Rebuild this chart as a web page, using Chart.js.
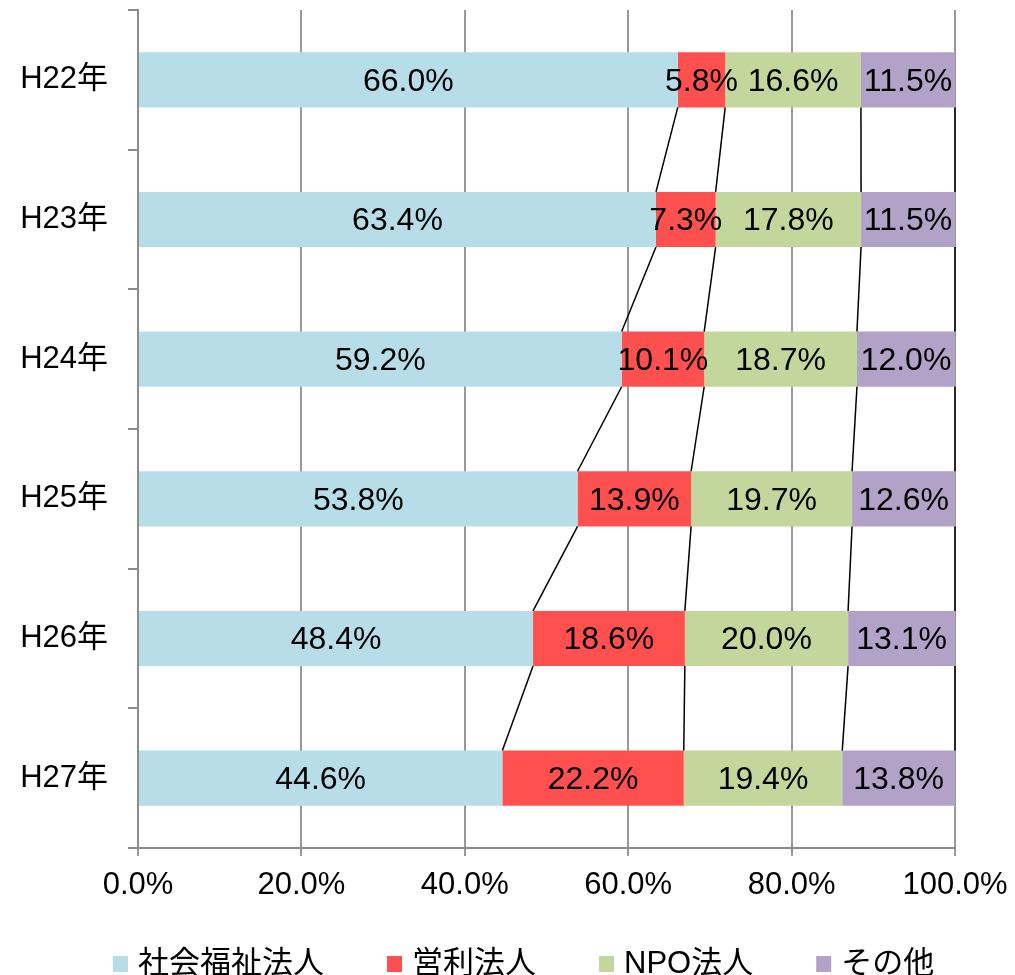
<!DOCTYPE html>
<html>
<head>
<meta charset="utf-8">
<script src="https://cdn.jsdelivr.net/npm/chart.js@4"></script>
<style>
  html, body { margin: 0; padding: 0; background: #fff; }
  #wrap { width: 1015px; height: 975px; }
</style>
</head>
<body>
<div id="wrap"><canvas id="chart" width="1015" height="975"></canvas></div>
<script>
const years = ['H22年', 'H23年', 'H24年', 'H25年', 'H26年', 'H27年'];
const seriesNames = ['社会福祉法人', '営利法人', 'NPO法人', 'その他'];
const shakaiFukushi = [66.0, 63.4, 59.2, 53.8, 48.4, 44.6];
const eiri = [5.8, 7.3, 10.1, 13.9, 18.6, 22.2];
const npo = [16.6, 17.8, 18.7, 19.7, 20.0, 19.4];
const sonota = [11.5, 11.5, 12.0, 12.6, 13.1, 13.8];
const xTicks = [0, 20, 40, 60, 80, 100];
const colors = ['#B7DEE8', '#FF5050', '#C3D69B', '#B3A2C7'];

const FONT = '"Liberation Sans", Arial, "Noto Sans CJK JP", sans-serif';
Chart.defaults.font.family = FONT;
Chart.defaults.font.size = 30;
Chart.defaults.color = '#000';

const allSeries = [shakaiFukushi, eiri, npo, sonota];
// 100% stacked: each row is scaled to its own total, labels keep the read values
const rowTotals = years.map((_, i) => allSeries.reduce((s, arr) => s + arr[i], 0));

const datasets = allSeries.map((arr, k) => ({
  label: seriesNames[k],
  data: arr.map((v, i) => v / rowTotals[i] * 100),
  raw: arr,
  backgroundColor: colors[k],
  borderWidth: 0,
  categoryPercentage: 1,
  barPercentage: 0.395
}));

// lines joining the end of each segment from one bar to the next
const seriesLines = {
  id: 'seriesLines',
  afterDatasetsDraw(chart) {
    const ctx = chart.ctx;
    ctx.save();
    ctx.strokeStyle = '#000';
    ctx.lineWidth = 1.5;
    chart.data.datasets.forEach((ds, k) => {
      const bars = chart.getDatasetMeta(k).data;
      for (let i = 0; i < bars.length - 1; i++) {
        const a = bars[i], b = bars[i + 1];
        ctx.beginPath();
        ctx.moveTo(a.x, a.y + a.height / 2);
        ctx.lineTo(b.x, b.y - b.height / 2);
        ctx.stroke();
      }
    });
    ctx.restore();
  }
};

const valueLabels = {
  id: 'valueLabels',
  afterDatasetsDraw(chart) {
    const ctx = chart.ctx;
    ctx.save();
    ctx.font = '32px ' + FONT;
    ctx.fillStyle = '#000';
    ctx.textAlign = 'center';
    ctx.textBaseline = 'middle';
    chart.data.datasets.forEach((ds, k) => {
      chart.getDatasetMeta(k).data.forEach((bar, i) => {
        const c = bar.getCenterPoint();
        ctx.fillText(ds.raw[i].toFixed(1) + '%', c.x, c.y + 2);
      });
    });
    ctx.restore();
  }
};

// legend sits low, partly off the bottom edge like the original
const bottomLegend = {
  id: 'bottomLegend',
  afterDraw(chart) {
    const ctx = chart.ctx;
    ctx.save();
    ctx.font = '31px ' + FONT;
    ctx.textBaseline = 'middle';
    ctx.textAlign = 'left';
    let x = 113;
    const y = 964;
    chart.data.datasets.forEach((ds) => {
      ctx.fillStyle = ds.backgroundColor;
      ctx.fillRect(x, y - 8, 15, 16);
      ctx.fillStyle = '#000';
      ctx.fillText(ds.label, x + 25, y);
      x += 25 + ctx.measureText(ds.label).width + 63;
    });
    ctx.restore();
  }
};

new Chart(document.getElementById('chart'), {
  type: 'bar',
  data: { labels: years, datasets: datasets },
  options: {
    indexAxis: 'y',
    responsive: false,
    animation: false,
    layout: { padding: { left: 22, right: 60, top: 10, bottom: 0 } },
    plugins: {
      legend: { display: false },
      tooltip: { enabled: false }
    },
    scales: {
      x: {
        stacked: true,
        min: 0,
        max: 100,
        afterBuildTicks: (s) => { s.ticks = xTicks.map(v => ({ value: v })); },
        afterFit: (s) => { s.height = 127; s.paddingLeft = 0; s.paddingRight = 0; },
        ticks: {
          padding: 11,
          font: { size: 31 },
          callback: (v) => Number(v).toFixed(1) + '%'
        },
        grid: { color: '#999', lineWidth: 2, tickLength: 8 },
        border: { color: '#8c8c8c', width: 2 }
      },
      y: {
        stacked: true,
        afterFit: (s) => { s.width = 116; s.paddingTop = 0; s.paddingBottom = 0; },
        ticks: { padding: 20, font: { size: 31 } },
        grid: { drawOnChartArea: false, color: '#8c8c8c', lineWidth: 2, tickLength: 10, offset: true },
        border: { color: '#8c8c8c', width: 2 }
      }
    }
  },
  plugins: [seriesLines, valueLabels, bottomLegend]
});
</script>
</body>
</html>
